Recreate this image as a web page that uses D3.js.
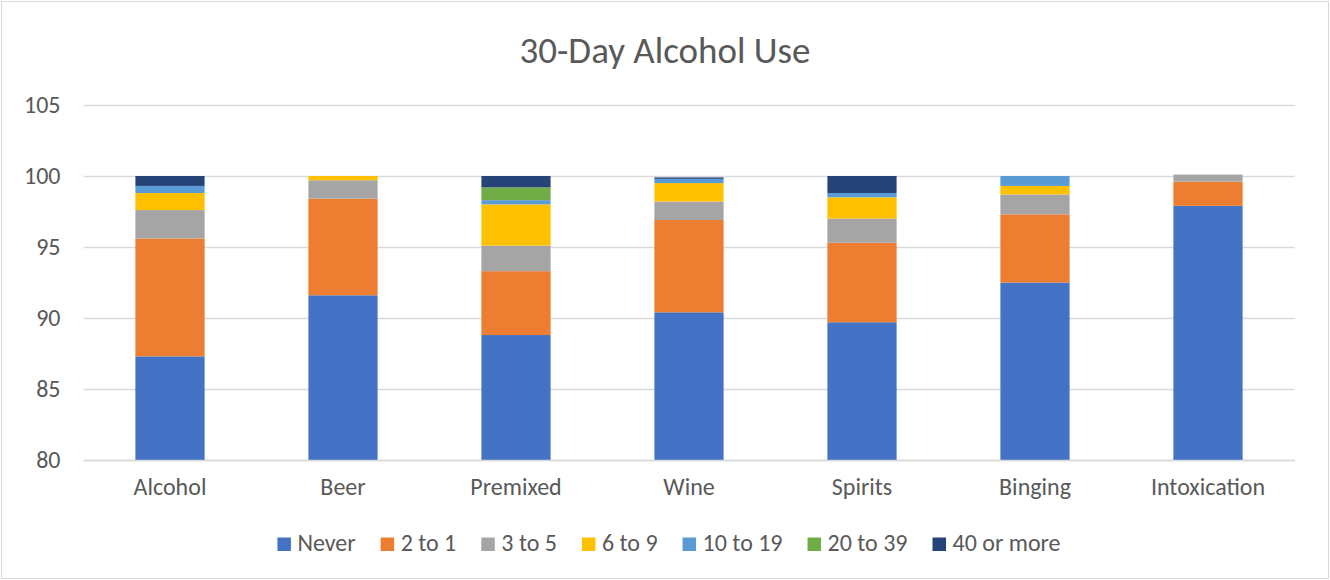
<!DOCTYPE html>
<html>
<head>
<meta charset="utf-8">
<script src="https://cdn.jsdelivr.net/npm/d3@7"></script>
<style>
  body { margin: 0; background: #fff; }
  text { font-family: Carlito, Calibri, "Liberation Sans", Arial, sans-serif; fill: #595959; }
</style>
</head>
<body>
<svg id="chart"></svg>
<script>
const categories = ['Alcohol', 'Beer', 'Premixed', 'Wine', 'Spirits', 'Binging', 'Intoxication'];
const seriesNames = ['Never', '2 to 1', '3 to 5', '6 to 9', '10 to 19', '20 to 39', '40 or more'];
const never      = [87.3, 91.6, 88.8, 90.4, 89.7, 92.5, 97.9];
const twoToOne   = [8.3, 6.8, 4.5, 6.5, 5.6, 4.8, 1.7];
const threeToFive = [2.0, 1.3, 1.8, 1.3, 1.7, 1.4, 0.5];
const sixToNine  = [1.2, 0.3, 2.9, 1.3, 1.5, 0.6, 0];
const tenTo19    = [0.5, 0, 0.3, 0.3, 0.3, 0.7, 0];
const twentyTo39 = [0, 0, 0.9, 0, 0, 0, 0];
const fortyPlus  = [0.7, 0, 0.8, 0.1, 1.2, 0, 0];
const yTicks = [80, 85, 90, 95, 100, 105];

const seriesValues = [never, twoToOne, threeToFive, sixToNine, tenTo19, twentyTo39, fortyPlus];
const colors = ['#4472C4', '#ED7D31', '#A5A5A5', '#FFC000', '#5B9BD5', '#70AD47', '#264478'];

const width = 1330, height = 580;
const plot = { left: 83.5, right: 1294.5, top: 105, bottom: 460 };

// table for d3.stack
const rows = categories.map((c, i) => {
  const r = { category: c };
  seriesNames.forEach((s, j) => { r[s] = seriesValues[j][i]; });
  return r;
});
const stacked = d3.stack().keys(seriesNames)(rows);

const svg = d3.select('#chart')
  .attr('width', width)
  .attr('height', height);

svg.append('rect')
  .attr('x', 1.5).attr('y', 1.5)
  .attr('width', width - 3).attr('height', height - 3)
  .attr('fill', '#fff')
  .attr('stroke', '#d9d9d9');

const x = d3.scaleBand()
  .domain(categories)
  .range([plot.left, plot.right])
  .paddingInner(0.6)
  .paddingOuter(0.3);

const y = d3.scaleLinear()
  .domain([80, 105])
  .range([plot.bottom, plot.top])
  .clamp(true);

// gridlines + y labels
const yAxis = d3.axisLeft(y)
  .tickValues(yTicks)
  .tickSize(-(plot.right - plot.left))
  .tickPadding(23);

svg.append('g')
  .attr('transform', 'translate(' + plot.left + ',0)')
  .call(yAxis)
  .call(g => {
    g.select('.domain').remove();
    g.selectAll('.tick line').attr('stroke', '#d9d9d9').attr('stroke-width', 1.3);
    g.selectAll('.tick text').attr('fill', '#595959').style('font-size', '24px');
  });

// bars
svg.append('g')
  .selectAll('g')
  .data(stacked)
  .enter().append('g')
  .attr('fill', (d, i) => colors[i])
  .selectAll('rect')
  .data(d => d)
  .enter().append('rect')
  .attr('x', d => x(d.data.category))
  .attr('width', x.bandwidth())
  .attr('y', d => y(d[1]))
  .attr('height', d => Math.max(0, y(d[0]) - y(d[1])));

// x axis
const xAxis = d3.axisBottom(x).tickSize(0).tickPadding(18);
svg.append('g')
  .attr('transform', 'translate(0,' + plot.bottom + ')')
  .call(xAxis)
  .call(g => {
    g.select('.domain').attr('stroke', '#d9d9d9').attr('stroke-width', 1.3);
    g.selectAll('.tick text').attr('fill', '#595959').style('font-size', '24px');
  });

// title
svg.append('text')
  .attr('x', 665)
  .attr('y', 63)
  .attr('text-anchor', 'middle')
  .style('font-size', '37px')
  .text('30-Day Alcohol Use');

// legend
const legend = svg.append('g');
const items = legend.selectAll('g')
  .data(seriesNames)
  .enter().append('g');
items.append('rect')
  .attr('width', 13.5).attr('height', 13.5)
  .attr('y', -13.5)
  .attr('fill', (d, i) => colors[i]);
items.append('text')
  .attr('x', 20)
  .attr('y', 0)
  .style('font-size', '24px')
  .text(d => d);
let cx = 0;
items.each(function () {
  const w = this.getBBox().width;
  d3.select(this).attr('transform', 'translate(' + cx + ',0)');
  cx += w + 25;
});
const total = cx - 25;
legend.attr('transform', 'translate(' + (669 - total / 2) + ',551)');
</script>
</body>
</html>
